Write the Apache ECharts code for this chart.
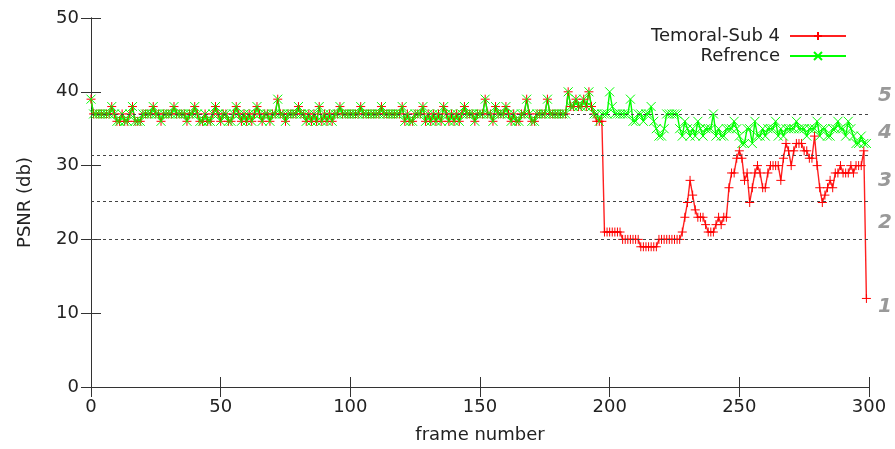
<!DOCTYPE html>
<html>
<head>
<meta charset="utf-8">
<script src="https://cdn.jsdelivr.net/npm/echarts@6/dist/echarts.min.js"></script>
<style>
  html, body { margin: 0; padding: 0; background: #fff; }
  #chart { width: 895px; height: 449px; }
</style>
</head>
<body>
<div id="chart"></div>
<script>
// frames 0..193, both curves coincide here
var headPSNR = [
  39, 37, 37, 37, 37, 37, 37, 37,
  38, 37, 36, 36, 37, 36, 36, 37,
  38, 36, 36, 36, 37, 37, 37, 37,
  38, 37, 37, 36, 37, 37, 37, 37,
  38, 37, 37, 37, 37, 36, 37, 37,
  38, 37, 36, 36, 37, 36, 36, 37,
  38, 37, 36, 37, 37, 36, 36, 37,
  38, 37, 36, 37, 36, 37, 36, 37,
  38, 37, 36, 37, 37, 36, 37, 37,
  39, 37, 37, 36, 37, 37, 37, 37,
  38, 37, 37, 36, 37, 36, 37, 36,
  38, 36, 37, 36, 37, 36, 37, 37,
  38, 37, 37, 37, 37, 37, 37, 37,
  38, 37, 37, 37, 37, 37, 37, 37,
  38, 37, 37, 37, 37, 37, 37, 37,
  38, 36, 37, 36, 36, 37, 37, 37,
  38, 36, 37, 36, 37, 36, 37, 36,
  38, 37, 36, 37, 36, 37, 36, 37,
  38, 37, 37, 37, 36, 37, 37, 37,
  39, 37, 37, 36, 38, 37, 37, 37,
  38, 37, 36, 37, 36, 36, 37, 37,
  39, 37, 36, 36, 37, 37, 37, 37,
  39, 37, 37, 37, 37, 37, 37, 37,
  40, 38, 38, 39, 38, 38, 39, 38,
  40, 38
]
// frames 194..299
var subTail = [
  37, 36, 36, 36,
  21, 21, 21, 21, 21, 21, 21,
  20, 20, 20, 20, 20, 20, 20,
  19, 19, 19, 19, 19, 19, 19,
  20, 20, 20, 20, 20, 20, 20, 20, 20,
  21, 23, 25, 28, 26, 24, 23, 23, 23, 22, 21, 21, 21, 22, 23, 22, 23, 23,
  27, 29, 29, 31, 32, 31, 28, 29, 25, 27,
  29, 30, 29, 27, 27, 29, 30, 30, 30, 30,
  28, 31, 33, 32, 30, 32, 33, 33, 33, 32,
  32, 31, 31, 34, 30, 27, 25, 26, 27, 28,
  27, 29, 29, 30, 29, 29, 29, 30, 29, 30,
  30, 30, 32, 12
]
var refTail = [
  37, 37, 36, 37, 37, 37,
  40, 38, 37, 37, 37, 37, 37, 37, 39, 36,
  36, 37, 37, 36, 37, 37, 38, 36, 35, 34,
  34, 35, 37, 37, 37, 37, 37, 35, 34, 36,
  35, 34, 35, 34, 36, 35, 34, 35, 35, 35,
  37, 34, 35, 34, 34, 35, 35, 35, 36, 35,
  34, 33, 33, 35, 35, 33, 36, 34, 34, 35,
  34, 35, 35, 35, 36, 34, 35, 34, 35, 35,
  35, 35, 36, 35, 35, 35, 34, 35, 35, 35,
  36, 34, 35, 35, 34, 34, 35, 35, 36, 35,
  35, 34, 36, 35, 34, 33, 33, 34, 33, 33
]
var levels = [20, 25.2, 31.4, 37]
var regionNames = ['1', '2', '3', '4', '5']
var regionY = [10.9, 22.2, 27.9, 34.5, 39.4]

var subPSNR = headPSNR.concat(subTail)
var refPSNR = headPSNR.concat(refTail)
function toPairs(arr) {
  return arr.map(function (v, i) { return [i, v] })
}

var plusSym = 'path://M0,5L10,5M5,0L5,10'
var crossSym = 'path://M0,0L10,10M10,0L0,10'
var tickColor = '#333'
var fontSz = 18

var option = {
  backgroundColor: '#fff',
  animation: false,
  textStyle: { fontFamily: 'DejaVu Sans' },
  grid: { left: 91, top: 18, width: 778, height: 371 },
  legend: {
    orient: 'vertical',
    right: 48,
    top: 27,
    padding: 0,
    align: 'right',
    itemWidth: 56,
    itemHeight: 10,
    itemGap: 2,
    textStyle: { fontSize: fontSz, color: '#222', padding: [0, 5, 0, 0] },
    data: ['Temoral-Sub 4', 'Refrence']
  },
  xAxis: [
    {
      type: 'value', min: 0, max: 300, interval: 50,
      name: 'frame number', nameLocation: 'middle', nameGap: 39,
      nameTextStyle: { fontSize: fontSz, color: '#222' },
      axisLine: { lineStyle: { color: tickColor, width: 1 } },
      axisTick: { inside: true, length: 10, lineStyle: { color: tickColor } },
      axisLabel: { fontSize: fontSz, color: '#222', margin: 11 },
      splitLine: { show: false }
    },
    {
      type: 'value', min: 0, max: 300, interval: 50, position: 'top',
      axisLine: { show: true, lineStyle: { color: tickColor, width: 1 } },
      axisTick: { inside: true, length: 10, lineStyle: { color: tickColor } },
      axisLabel: { show: false },
      splitLine: { show: false }
    }
  ],
  yAxis: [
    {
      type: 'value', min: 0, max: 50, interval: 10,
      name: 'PSNR (db)', nameLocation: 'middle', nameGap: 57,
      nameTextStyle: { fontSize: fontSz, color: '#222' },
      axisLine: { show: true, lineStyle: { color: tickColor, width: 1 } },
      axisTick: { show: true, inside: true, length: 10, lineStyle: { color: tickColor } },
      axisLabel: { fontSize: fontSz, color: '#222', margin: 12 },
      splitLine: { show: false }
    },
    {
      type: 'value', min: 0, max: 50, interval: 10, position: 'right',
      axisLine: { show: true, lineStyle: { color: tickColor, width: 1 } },
      axisTick: { show: true, inside: true, length: 10, lineStyle: { color: tickColor } },
      axisLabel: { show: false },
      splitLine: { show: false }
    }
  ],
  series: [
    {
      name: 'Temoral-Sub 4',
      type: 'line',
      data: toPairs(subPSNR),
      symbol: plusSym,
      symbolSize: 9,
      showAllSymbol: true,
      itemStyle: { color: '#ff0000', borderColor: '#ff0000', borderWidth: 1 },
      lineStyle: { color: '#ff2020', width: 1.4 },
      markLine: {
        silent: true,
        symbol: 'none',
        label: { show: false },
        lineStyle: { color: '#444', width: 1, type: [3, 3] },
        data: levels.map(function (v) { return { yAxis: v } })
      }
    },
    {
      name: 'Refrence',
      type: 'line',
      data: toPairs(refPSNR),
      symbol: crossSym,
      symbolSize: 9,
      showAllSymbol: true,
      itemStyle: { color: '#00ff00', borderColor: '#00ff00', borderWidth: 1 },
      lineStyle: { color: '#00ff00', width: 1.4 }
    },
    {
      type: 'scatter',
      silent: true,
      clip: false,
      symbolSize: 0,
      data: regionNames.map(function (n, i) { return { value: [300, regionY[i]], name: n } }),
      label: {
        show: true,
        position: 'right',
        distance: 9,
        formatter: '{b}',
        fontSize: 20,
        fontStyle: 'italic',
        fontWeight: 'bold',
        color: '#808080'
      }
    }
  ]
}

var chart = echarts.init(document.getElementById('chart'), null, { renderer: 'canvas' })
chart.setOption(option)
</script>
</body>
</html>
